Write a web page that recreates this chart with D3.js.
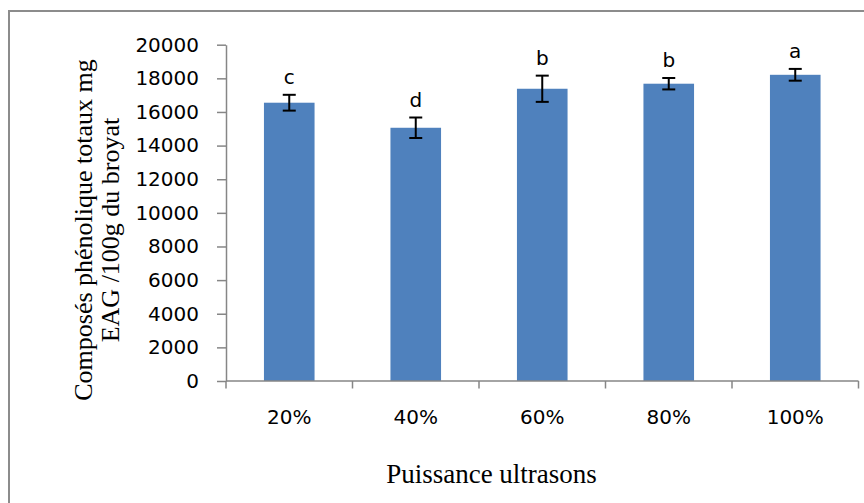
<!DOCTYPE html>
<html>
<head>
<meta charset="utf-8">
<script src="https://cdn.jsdelivr.net/npm/d3@7/dist/d3.min.js"></script>
<style>
  html, body { margin: 0; padding: 0; background: #fff; }
  svg { display: block; }
</style>
</head>
<body>
<svg id="chart" width="864" height="503"></svg>
<script>
// ---- data ----
const categories = ["20%", "40%", "60%", "80%", "100%"];
const values = [16550, 15060, 17380, 17680, 18210];
const errors = [470, 610, 780, 340, 350];
const letters = ["c", "d", "b", "b", "a"];
const yTicks = [0, 2000, 4000, 6000, 8000, 10000, 12000, 14000, 16000, 18000, 20000];
const yLabelLines = ["Composés phénolique totaux mg", "EAG /100g du broyat"];
const xTitle = "Puissance ultrasons";

// ---- layout ----
const svg = d3.select("#chart");
const W = 864, H = 503;
const plot = { left: 226, right: 858.5, top: 44.7, bottom: 381 };
const axisColor = "#868686";
const tickFont = "'DejaVu Sans', sans-serif";
const serif = "'Liberation Serif', 'Times New Roman', serif";

// outer border (only top and left visible)
svg.append("rect")
  .attr("x", 9).attr("y", 11)
  .attr("width", W + 20).attr("height", H + 20)
  .attr("fill", "#fff")
  .attr("stroke", "#8c8c8c").attr("stroke-width", 2);

const x = d3.scaleBand()
  .domain(categories)
  .range([plot.left, plot.right])
  .paddingInner(0.6)
  .paddingOuter(0.3);

const y = d3.scaleLinear()
  .domain([0, 20000])
  .range([plot.bottom, plot.top]);

// bars
svg.append("g").selectAll("rect")
  .data(categories)
  .join("rect")
  .attr("x", d => x(d))
  .attr("width", x.bandwidth())
  .attr("y", (d, i) => y(values[i]))
  .attr("height", (d, i) => y(0) - y(values[i]))
  .attr("fill", "#4F81BD");

// y axis
const yAxis = d3.axisLeft(y)
  .tickValues(yTicks)
  .tickFormat(d3.format("d"))
  .tickSize(9)
  .tickPadding(18)
  .tickSizeOuter(0);
const gy = svg.append("g")
  .attr("transform", `translate(${plot.left},0)`)
  .call(yAxis);
gy.select(".domain").attr("stroke", axisColor).attr("stroke-width", 1.5);
gy.selectAll(".tick line").attr("stroke", axisColor).attr("stroke-width", 1.5);
gy.selectAll(".tick text")
  .attr("font-family", tickFont)
  .attr("font-size", 20)
  .attr("fill", "#000");

// x axis: line plus ticks at category boundaries
const step = x.step();
const boundaries = d3.range(categories.length + 1).map(i => x(categories[0]) - x.paddingOuter() * step + i * step);
const gx = svg.append("g");
gx.append("line")
  .attr("x1", plot.left).attr("x2", plot.right)
  .attr("y1", plot.bottom).attr("y2", plot.bottom)
  .attr("stroke", axisColor).attr("stroke-width", 1.5);
gx.selectAll("line.xt")
  .data(boundaries)
  .join("line")
  .attr("class", "xt")
  .attr("x1", d => d).attr("x2", d => d)
  .attr("y1", plot.bottom).attr("y2", plot.bottom + 7.5)
  .attr("stroke", axisColor).attr("stroke-width", 1.5);
gx.selectAll("text")
  .data(categories)
  .join("text")
  .attr("x", d => x(d) + x.bandwidth() / 2)
  .attr("y", 424)
  .attr("text-anchor", "middle")
  .attr("font-family", tickFont)
  .attr("font-size", 20)
  .attr("fill", "#000")
  .text(d => d);

// error bars
const eg = svg.append("g").attr("stroke", "#000").attr("stroke-width", 2);
categories.forEach((c, i) => {
  const cx = x(c) + x.bandwidth() / 2;
  const y1 = y(values[i] + errors[i]);
  const y2 = y(values[i] - errors[i]);
  eg.append("line").attr("x1", cx).attr("x2", cx).attr("y1", y1).attr("y2", y2);
  eg.append("line").attr("x1", cx - 6.5).attr("x2", cx + 6.5).attr("y1", y1).attr("y2", y1);
  eg.append("line").attr("x1", cx - 6.5).attr("x2", cx + 6.5).attr("y1", y2).attr("y2", y2);
});

// significance letters
svg.append("g").selectAll("text")
  .data(categories)
  .join("text")
  .attr("x", d => x(d) + x.bandwidth() / 2)
  .attr("y", (d, i) => y(values[i] + errors[i]) - 11)
  .attr("text-anchor", "middle")
  .attr("font-family", tickFont)
  .attr("font-size", 20)
  .attr("fill", "#000")
  .text((d, i) => letters[i]);

// y title
const yt = svg.append("text")
  .attr("transform", "translate(92,230) rotate(-90)")
  .attr("text-anchor", "middle")
  .attr("font-family", serif)
  .attr("font-size", 26)
  .attr("fill", "#000");
yLabelLines.forEach((t, i) => {
  yt.append("tspan").attr("x", 0).attr("dy", i === 0 ? 0 : 27).text(t);
});

// x title
svg.append("text")
  .attr("x", 491.5).attr("y", 483)
  .attr("text-anchor", "middle")
  .attr("font-family", serif)
  .attr("font-size", 27)
  .attr("fill", "#000")
  .text(xTitle);
</script>
</body>
</html>
